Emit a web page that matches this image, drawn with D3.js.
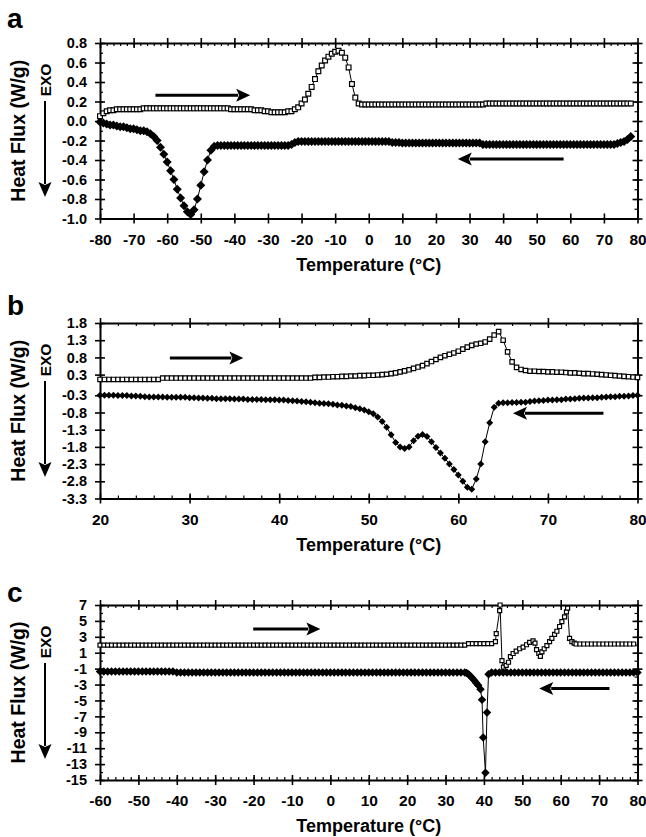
<!DOCTYPE html>
<html>
<head>
<meta charset="utf-8">
<script src="https://cdnjs.cloudflare.com/ajax/libs/d3/7.8.5/d3.min.js"></script>
<style>
  body { margin: 0; background: #fff; }
  svg { display: block; }
</style>
</head>
<body>
<div id="chart"></div>
<script>
// ---------- panel a : heat flux (W/g), 1 C steps from -80 to 78 ----------
const aStart = -80, aStep = 1;
const aHeating = [
  0.05,0.08,0.10,0.11,0.11,0.12,0.12,0.12,0.12,0.12,
  0.12,0.12,0.12,0.13,0.13,0.13,0.13,0.13,0.13,0.13,
  0.13,0.13,0.13,0.13,0.13,0.13,0.13,0.13,0.13,0.13,
  0.13,0.13,0.13,0.13,0.13,0.13,0.13,0.13,0.13,0.12,
  0.12,0.12,0.12,0.12,0.12,0.12,0.11,0.11,0.11,0.10,
  0.10,0.09,0.09,0.09,0.09,0.09,0.10,0.10,0.12,0.14,
  0.18,0.22,0.28,0.35,0.43,0.51,0.57,0.62,0.66,0.69,
  0.71,0.72,0.70,0.65,0.55,0.38,0.24,0.18,0.17,0.17,
  0.17,0.17,0.17,0.17,0.17,0.17,0.17,0.17,0.17,0.17,
  0.17,0.17,0.17,0.17,0.17,0.17,0.17,0.17,0.17,0.17,
  0.17,0.17,0.17,0.17,0.17,0.17,0.17,0.17,0.17,0.17,
  0.17,0.17,0.17,0.17,0.17,0.18,0.18,0.18,0.18,0.18,
  0.18,0.18,0.18,0.18,0.18,0.18,0.18,0.18,0.18,0.18,
  0.18,0.18,0.18,0.18,0.18,0.18,0.18,0.18,0.18,0.18,
  0.18,0.18,0.18,0.18,0.18,0.18,0.18,0.18,0.18,0.18,
  0.18,0.18,0.18,0.18,0.18,0.18,0.18,0.18,0.18
];
const aCooling = [
  -0.01,-0.02,-0.03,-0.04,-0.04,-0.05,-0.06,-0.06,-0.07,-0.08,
  -0.08,-0.09,-0.10,-0.10,-0.11,-0.13,-0.16,-0.20,-0.27,-0.34,
  -0.42,-0.51,-0.60,-0.70,-0.79,-0.87,-0.93,-0.96,-0.91,-0.80,
  -0.66,-0.52,-0.40,-0.30,-0.26,-0.25,-0.25,-0.25,-0.25,-0.25,
  -0.25,-0.25,-0.25,-0.25,-0.25,-0.25,-0.25,-0.25,-0.25,-0.25,
  -0.25,-0.25,-0.25,-0.25,-0.25,-0.25,-0.25,-0.24,-0.22,-0.21,
  -0.21,-0.21,-0.21,-0.21,-0.21,-0.21,-0.21,-0.21,-0.21,-0.21,
  -0.21,-0.21,-0.21,-0.21,-0.21,-0.21,-0.21,-0.21,-0.21,-0.21,
  -0.21,-0.21,-0.21,-0.21,-0.21,-0.21,-0.21,-0.22,-0.22,-0.22,
  -0.225,-0.225,-0.225,-0.225,-0.225,-0.225,-0.225,-0.225,-0.225,-0.225,
  -0.225,-0.225,-0.225,-0.225,-0.225,-0.225,-0.225,-0.225,-0.225,-0.225,
  -0.225,-0.225,-0.225,-0.225,-0.24,-0.24,-0.24,-0.24,-0.24,-0.24,
  -0.24,-0.24,-0.24,-0.24,-0.24,-0.24,-0.24,-0.24,-0.24,-0.24,
  -0.24,-0.24,-0.24,-0.24,-0.24,-0.24,-0.24,-0.24,-0.24,-0.24,
  -0.24,-0.24,-0.24,-0.24,-0.24,-0.24,-0.24,-0.24,-0.24,-0.24,
  -0.24,-0.24,-0.24,-0.24,-0.23,-0.22,-0.21,-0.19,-0.16
];
const aXTicks = [-80,-70,-60,-50,-40,-30,-20,-10,0,10,20,30,40,50,60,70,80];
const aYTicks = [-1.0,-0.8,-0.6,-0.4,-0.2,0.0,0.2,0.4,0.6,0.8];

// ---------- panel b : 0.5 C steps from 20 to 80 ----------
const bStart = 20, bStep = 0.5;
const bHeating = [
  0.16,0.16,0.16,0.16,0.16,0.16,0.16,0.16,0.16,0.16,0.16,0.16,0.16,0.16,
  0.20,0.20,0.20,0.20,0.20,0.20,0.20,0.20,0.20,0.20,0.20,0.20,0.20,0.20,0.20,0.20,0.20,
  0.20,0.20,0.20,0.20,0.20,0.20,0.20,0.20,0.20,0.20,0.20,0.20,0.20,0.20,0.20,0.20,0.20,
  0.22,0.22,0.23,0.23,0.24,0.24,0.25,0.25,
  0.26,0.26,0.27,0.27,0.28,0.28,0.29,0.30,
  0.31,0.33,0.35,0.38,0.41,0.44,0.48,0.52,
  0.56,0.62,0.68,0.74,0.80,0.85,0.89,0.93,
  0.98,1.04,1.10,1.15,1.19,1.21,1.25,1.33,
  1.45,1.55,1.30,0.96,0.67,0.51,0.45,0.42,
  0.40,0.40,0.39,0.39,0.38,0.38,0.37,0.37,
  0.36,0.35,0.35,0.34,0.33,0.33,0.32,0.31,
  0.30,0.29,0.28,0.27,0.26,0.25,0.24,0.23,
  0.22
];
const bCooling = [
  -0.30,-0.30,-0.30,-0.30,-0.31,-0.31,-0.31,-0.32,-0.32,-0.33,
  -0.34,-0.35,-0.35,-0.35,-0.35,-0.36,-0.36,-0.36,-0.36,-0.36,
  -0.37,-0.37,-0.38,-0.38,-0.39,-0.39,-0.40,-0.40,-0.40,-0.40,
  -0.41,-0.41,-0.41,-0.42,-0.42,-0.42,-0.42,-0.43,-0.43,-0.43,
  -0.44,-0.44,-0.45,-0.46,-0.47,-0.48,-0.49,-0.50,
  -0.52,-0.53,-0.54,-0.55,-0.56,-0.58,-0.59,-0.61,
  -0.63,-0.66,-0.69,-0.73,-0.78,-0.84,-0.93,-1.06,
  -1.23,-1.45,-1.67,-1.80,-1.85,-1.80,-1.62,-1.49,
  -1.44,-1.50,-1.65,-1.82,-1.98,-2.13,-2.30,-2.46,
  -2.62,-2.80,-2.97,-3.03,-2.73,-2.30,-1.65,-1.10,
  -0.65,-0.53,-0.52,-0.52,-0.51,-0.51,-0.50,-0.50,
  -0.48,-0.47,-0.46,-0.45,-0.44,-0.44,-0.43,-0.43,
  -0.41,-0.41,-0.40,-0.39,-0.38,-0.38,-0.37,-0.37,
  -0.36,-0.35,-0.34,-0.34,-0.33,-0.33,-0.32,-0.31,
  -0.30
];
const bXTicks = [20,30,40,50,60,70,80];
const bYTicks = [-3.3,-2.8,-2.3,-1.8,-1.3,-0.8,-0.3,0.3,0.8,1.3,1.8];

// ---------- panel c : flat runs in 1 C steps, transitions as read ----------
const cHeatLowStart = -60;
const cHeatLow = [
  1.95,1.95,1.95,1.95,1.95,1.95,1.95,1.95,1.95,1.95,
  1.95,1.95,1.95,1.95,1.95,1.95,1.95,1.95,1.95,1.95,
  1.95,1.95,1.95,1.95,1.95,1.95,1.95,1.95,1.95,1.95,
  1.95,1.95,1.95,1.95,1.95,1.95,1.95,1.95,1.95,1.95,
  1.95,1.95,1.95,1.95,1.95,1.95,1.95,1.95,1.95,1.95,
  1.95,1.95,1.95,1.95,1.95,1.95,1.95,1.95,1.95,1.95,
  1.95,1.95,1.95,1.95,1.95,1.95,1.95,1.95,1.95,1.95,
  1.95,1.95,1.95,1.95,1.95,1.95,1.95,1.95,1.95,1.95,
  1.95,1.95,1.95,1.95,1.95,1.95,1.95,1.95,1.95,1.95,
  1.95,1.95,1.95,1.95,1.95,1.95,
  2.15,2.15,2.15,2.15,2.15,2.15,2.15
];
const cHeatPeakT = [43.0,43.2,44.1,44.2,44.7,45.1,45.8,46.4,46.9,47.6,48.4,49.3,50.2,51.1,51.9,52.8,53.3,53.7,54.3,54.7,55.1,55.7,56.4,57.1,57.7,58.4,59.0,59.7,60.3,61.0,61.5,61.8,62.3,62.9,63.5];
const cHeatPeakV = [2.4,3.4,6.3,7.0,0.0,-0.8,-0.6,-0.2,0.5,0.9,1.2,1.5,1.7,2.0,2.3,2.5,2.2,1.4,0.9,0.55,1.1,1.5,1.9,2.4,2.8,3.3,3.7,4.3,4.9,5.5,6.15,6.6,2.8,2.4,2.2];
const cHeatHighStart = 64;
const cHeatHigh = [2.1,2.1,2.1,2.1,2.1,2.1,2.1,2.1,2.1,2.1,2.1,2.1,2.1,2.1,2.1,2.1];

const cCoolLowStart = -60;
const cCoolLow = [
  -1.35,-1.35,-1.35,-1.35,-1.35,-1.35,-1.35,-1.35,-1.35,-1.35,
  -1.35,-1.35,-1.35,-1.35,-1.35,-1.35,-1.35,-1.35,-1.35,-1.35,
  -1.5,-1.5,-1.5,-1.5,-1.5,-1.5,-1.5,-1.5,-1.5,-1.5,
  -1.5,-1.5,-1.5,-1.5,-1.5,-1.5,-1.5,-1.5,-1.5,-1.5,
  -1.5,-1.5,-1.5,-1.5,-1.5,-1.5,-1.5,-1.5,-1.5,-1.5,
  -1.5,-1.5,-1.5,-1.5,-1.5,-1.5,-1.5,-1.5,-1.5,-1.5,
  -1.5,-1.5,-1.5,-1.5,-1.5,-1.5,-1.5,-1.5,-1.5,-1.5,
  -1.5,-1.5,-1.5,-1.5,-1.5,-1.5,-1.5,-1.5,-1.5,-1.5,
  -1.5,-1.5,-1.5,-1.5,-1.5,-1.5,-1.5,-1.5,-1.5,-1.5,
  -1.5,-1.5,-1.5,-1.5,-1.5,-1.5
];
const cCoolDipT = [35.5,36.0,36.5,37.0,37.5,38.0,38.5,39.1,39.5,39.8,40.4,40.8,41.2];
const cCoolDipV = [-1.55,-1.7,-1.95,-2.2,-2.5,-2.8,-3.1,-3.6,-4.9,-9.65,-14.1,-6.5,-1.7];
const cCoolHighStart = 42;
const cCoolHigh = [
  -1.5,-1.5,-1.5,-1.5,-1.5,-1.5,-1.5,-1.5,-1.5,-1.5,
  -1.5,-1.5,-1.5,-1.5,-1.5,-1.5,-1.5,-1.5,-1.5,-1.5,
  -1.5,-1.5,-1.5,-1.5,-1.5,-1.5,-1.5,-1.5,-1.5,-1.5,
  -1.5,-1.5,-1.5,-1.5,-1.5,-1.5,-1.5,-1.5,-1.5
];
const cXTicks = [-60,-50,-40,-30,-20,-10,0,10,20,30,40,50,60,70,80];
const cYTicks = [-15,-13,-11,-9,-7,-5,-3,-1,1,3,5,7];

// ---------- helpers ----------
const run = (start, step, vals) => vals.map((v, i) => [+(start + i * step).toFixed(2), v]);
const pairs = (ts, vs) => ts.map((t, i) => [t, vs[i]]);

const W = 646, H = 837;
const left = 100, right = 637.5;
const font = "Arial, 'Liberation Sans', sans-serif";

const svg = d3.select("#chart").append("svg")
  .attr("width", W).attr("height", H)
  .style("font-family", font)
  .style("font-weight", "bold");

// square diamond marker (equal width and height)
const diamondShape = {
  draw(ctx, size) {
    const r = Math.sqrt(size) / 2;
    ctx.moveTo(0, -r); ctx.lineTo(r, 0); ctx.lineTo(0, r); ctx.lineTo(-r, 0); ctx.closePath();
  }
};

const panels = [
  {
    letter: "a", letterY: 28, top: 43, bottom: 218.5,
    xDomain: [-80, 80], yDomain: [-1.0, 0.8],
    xTicks: aXTicks, yTicks: aYTicks, yFmt: d => d.toFixed(1),
    xMinorTop: d3.range(-80, 81, 2), xMinorBottom: [], yMinor: d3.range(-1.0, 0.81, 0.1),
    heat: run(aStart, aStep, aHeating), cool: run(aStart, aStep, aCooling),
    heatArrow: [-63.5, -35.3, 0.265], coolArrow: [58.0, 26.5, -0.39],
    sq: 4.8, dia: 9
  },
  {
    letter: "b", letterY: 315, top: 323, bottom: 498.5,
    xDomain: [20, 80], yDomain: [-3.3, 1.8],
    xTicks: bXTicks, yTicks: bYTicks, yFmt: d => d.toFixed(1),
    xMinorTop: d3.range(20, 81, 2), xMinorBottom: d3.range(20, 81, 2), yMinor: [],
    heat: run(bStart, bStep, bHeating), cool: run(bStart, bStep, bCooling),
    heatArrow: [27.8, 36.0, 0.78], coolArrow: [76.2, 66.1, -0.82],
    sq: 4.4, dia: 7
  },
  {
    letter: "c", letterY: 602, top: 605, bottom: 780,
    xDomain: [-60, 80], yDomain: [-15, 7],
    xTicks: cXTicks, yTicks: cYTicks, yFmt: d => String(d),
    xMinorTop: d3.range(-60, 81, 2), xMinorBottom: d3.range(-60, 81, 2), yMinor: d3.range(-15, 8, 1),
    heat: run(cHeatLowStart, 1, cHeatLow).concat(pairs(cHeatPeakT, cHeatPeakV), run(cHeatHighStart, 1, cHeatHigh)),
    cool: run(cCoolLowStart, 1, cCoolLow).concat(pairs(cCoolDipT, cCoolDipV), run(cCoolHighStart, 1, cCoolHigh)),
    heatArrow: [-20.1, -2.6, 3.97], coolArrow: [72.7, 54.4, -3.5],
    sq: 4.0, dia: 8.5
  }
];

function arrow(g, x1, y1, x2, y2, len, half, lw) {
  const dx = x2 - x1, dy = y2 - y1, L = Math.hypot(dx, dy);
  const ux = dx / L, uy = dy / L;
  const bx = x2 - ux * len, by = y2 - uy * len;
  g.append("line")
    .attr("x1", x1).attr("y1", y1).attr("x2", bx + ux * 2).attr("y2", by + uy * 2)
    .attr("stroke", "#000").attr("stroke-width", lw);
  g.append("path")
    .attr("d", `M${x2},${y2}L${bx - uy * half},${by + ux * half}L${bx + ux * 3},${by + uy * 3}L${bx + uy * half},${by - ux * half}Z`)
    .attr("fill", "#000");
}

function styleAxis(sel, size) {
  sel.attr("font-family", font).attr("font-size", size).attr("font-weight", "bold");
  sel.select(".domain").attr("stroke-width", 2);
  sel.selectAll(".tick line").attr("stroke-width", 1.6);
}

panels.forEach(p => {
  const g = svg.append("g");
  const x = d3.scaleLinear().domain(p.xDomain).range([left, right]);
  const y = d3.scaleLinear().domain(p.yDomain).range([p.bottom, p.top]);

  // minor ticks (inside)
  const minor = (axis, tr) => g.append("g").attr("transform", tr)
    .call(axis.tickSizeOuter(0).tickFormat(() => ""))
    .call(s => { s.select(".domain").remove(); s.selectAll(".tick line").attr("stroke-width", 1.2); });
  minor(d3.axisTop(x).tickValues(p.xMinorTop).tickSizeInner(-3), `translate(0,${p.top})`);
  minor(d3.axisBottom(x).tickValues(p.xMinorBottom).tickSizeInner(-3), `translate(0,${p.bottom})`);
  minor(d3.axisLeft(y).tickValues(p.yMinor).tickSizeInner(-3), `translate(${left},0)`);
  minor(d3.axisRight(y).tickValues(p.yMinor).tickSizeInner(-3), `translate(${right},0)`);

  // major axes, ticks crossing the frame
  g.append("g").attr("transform", `translate(0,${p.bottom})`)
    .call(d3.axisBottom(x).tickValues(p.xTicks).tickFormat(d => String(d))
      .tickSizeInner(5).tickSizeOuter(0).tickPadding(10))
    .call(s => { styleAxis(s, 15.5); s.selectAll(".tick line").attr("y1", -5); });
  g.append("g").attr("transform", `translate(0,${p.top})`)
    .call(d3.axisTop(x).tickValues(p.xTicks).tickFormat(() => "").tickSizeInner(5).tickSizeOuter(0))
    .call(s => { styleAxis(s, 15); s.selectAll(".tick line").attr("y1", 5); });
  g.append("g").attr("transform", `translate(${left},0)`)
    .call(d3.axisLeft(y).tickValues(p.yTicks).tickFormat(p.yFmt)
      .tickSizeInner(5).tickSizeOuter(0).tickPadding(8))
    .call(s => { styleAxis(s, 14.5); s.selectAll(".tick line").attr("x1", 5); });
  g.append("g").attr("transform", `translate(${right},0)`)
    .call(d3.axisRight(y).tickValues(p.yTicks).tickFormat(() => "").tickSizeInner(5).tickSizeOuter(0))
    .call(s => { styleAxis(s, 14); s.selectAll(".tick line").attr("x1", -5); });

  // series: thin connecting line + markers
  const line = d3.line().x(d => x(d[0])).y(d => y(d[1]));
  [p.heat, p.cool].forEach(data => {
    g.append("path").datum(data).attr("d", line)
      .attr("fill", "none").attr("stroke", "#000").attr("stroke-width", 1);
  });
  const dia = d3.symbol().type(diamondShape).size(p.dia * p.dia);
  g.append("g").selectAll("path").data(p.cool).join("path")
    .attr("transform", d => `translate(${x(d[0])},${y(d[1])})`)
    .attr("d", dia).attr("fill", "#000");
  const sq = d3.symbol().type(d3.symbolSquare).size(p.sq * p.sq);
  g.append("g").selectAll("path").data(p.heat).join("path")
    .attr("transform", d => `translate(${x(d[0])},${y(d[1])})`)
    .attr("d", sq).attr("fill", "#fff").attr("stroke", "#000").attr("stroke-width", 1.2);

  // direction arrows
  const ha = p.heatArrow, ca = p.coolArrow;
  arrow(g, x(ha[0]), y(ha[2]), x(ha[1]), y(ha[2]), 14, 6.5, 3);
  arrow(g, x(ca[0]), y(ca[2]), x(ca[1]), y(ca[2]), 14, 6.5, 3);

  // titles
  g.append("text").attr("x", 7).attr("y", p.letterY)
    .attr("font-size", 28).text(p.letter);
  g.append("text").attr("x", (left + right) / 2).attr("y", p.bottom + 52)
    .attr("text-anchor", "middle").attr("font-size", 18).text("Temperature (°C)");
  g.append("text").attr("transform", `translate(25,${(p.top + p.bottom) / 2}) rotate(-90)`)
    .attr("text-anchor", "middle").attr("font-size", 19.5).text("Heat Flux (W/g)");
  g.append("text").attr("transform", `translate(51,${p.top + 37}) rotate(-90)`)
    .attr("text-anchor", "middle").attr("font-size", 15.5).text("EXO");
  arrow(g, 45, p.top + 58, 45, p.top + 154, 15, 6.5, 2);
});
</script>
</body>
</html>
